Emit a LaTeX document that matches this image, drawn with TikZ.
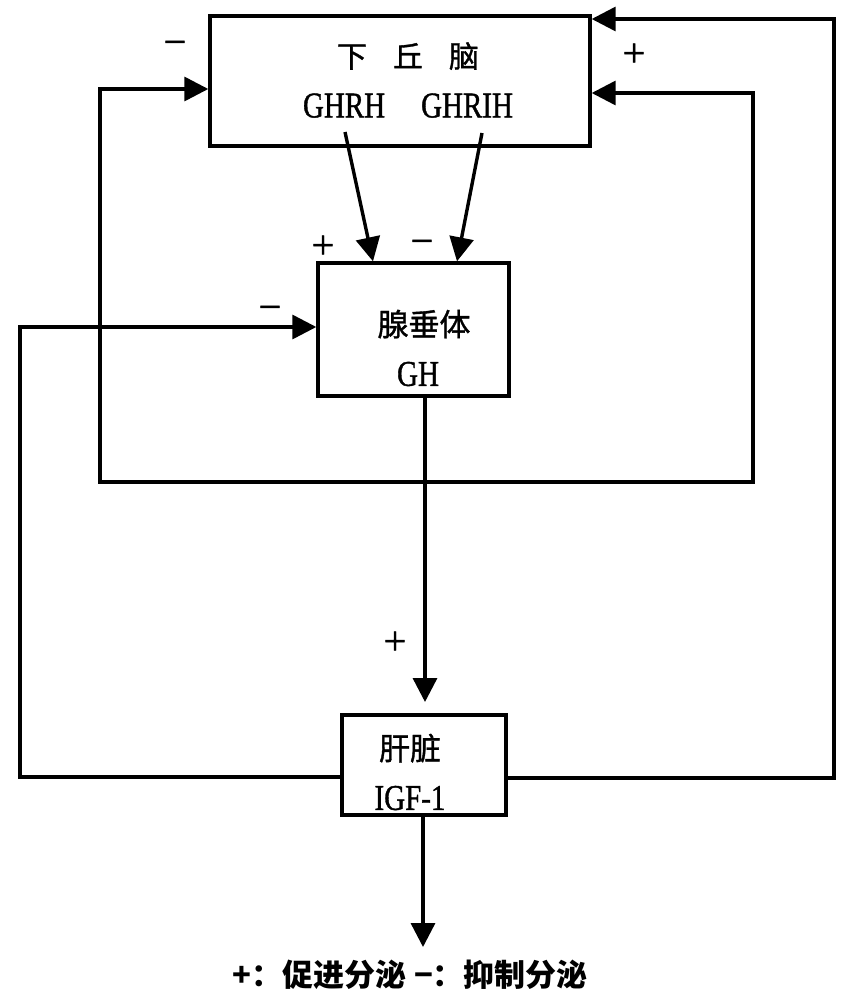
\documentclass[tikz,border=0pt]{standalone}
\usepackage{fontspec}
\setmainfont{Liberation Serif}
\newfontfamily\cjk[FakeBold=1.2]{Noto Sans CJK SC}
\newfontfamily\cjklegend{Noto Sans CJK SC}
\newfontfamily\lat[FakeBold=1.2]{Liberation Serif}
\usetikzlibrary{arrows.meta}
\newcommand{\tallt}[1]{\scalebox{1}[1.25]{#1}}
\begin{document}
\begin{tikzpicture}[x=1pt,y=-1pt,
  box/.style={draw,line width=3.4pt,inner sep=0pt},
  wire/.style={line width=3.4pt,line join=miter},
  conn/.style={wire,-{Triangle[length=24pt,width=24pt]}},
  sign/.style={inner sep=0pt,font=\lat\fontsize{40}{40}\selectfont},
  lbl/.style={inner sep=0pt,align=center,font=\lat\fontsize{29}{50}\selectfont}]
\useasboundingbox[fill=white] (0,0) rectangle (844,993);
% boxes
\node[box,minimum width=380pt,minimum height=130pt] (hyp) at (400,81) {};
\node[box,minimum width=191pt,minimum height=133pt] (pit) at (413.5,329.5) {};
\node[box,minimum width=164pt,minimum height=100pt] (liver) at (424,765) {};
% texts
\node[lbl] (hyptext) at (408,80) {{\cjk\fontsize{30}{30}\selectfont 下\hspace{26pt}丘\hspace{26pt}脑}\\\tallt{GHRH\hspace{36pt}GHRIH}};
\node[lbl] (pittext) at (418,348) {{\cjk\fontsize{31}{31}\selectfont\hspace{12pt}腺垂体}\\\tallt{GH}};
\node[lbl] (livertext) at (410,772) {{\cjk\fontsize{31}{31}\selectfont 肝脏}\\\tallt{IGF-1}};
% coordinates
\coordinate (ghrh) at (345,132);
\coordinate (ghrih) at (482,133);
\coordinate (j) at (425,482);
\coordinate (gtip) at (425,702);
\coordinate (otip) at (423,947);
% connectors
\draw[conn] (ghrh) -- (373,0 |- pit.north);
\draw[conn] (ghrih) -- (457,0 |- pit.north);
\draw[conn] (pit.south -| j) -- (gtip);
\draw[conn] (liver.south -| otip) -- (otip);
\draw[conn] (liver.west |- 0,777) -- (20,777) -- (20,327) -- (pit.west |- 0,327);
\draw[conn] (liver.east |- 0,778) -- (834,778) -- (834,19) -- (hyp.east |- 0,19);
\draw[conn] (j) -- (100,482) -- (100,89) -- (hyp.west |- 0,89);
\draw[conn] (j) -- (753,482) -- (753,93) -- (hyp.east |- 0,93);
% signs
\node[sign] (s1) at (175,48) {−};
\node[sign] (s2) at (634,55) {+};
\node[sign] (s3) at (323,247) {+};
\node[sign] (s4) at (422,247) {−};
\node[sign] (s5) at (270,313) {−};
\node[sign] (s6) at (395,643) {+};
% legend
\node[inner sep=0pt,font=\cjklegend\bfseries\fontsize{31}{31}\selectfont] (legend) at (410,975) {+：促进分泌\hspace{8pt}−：抑制分泌};
\end{tikzpicture}
\end{document}
